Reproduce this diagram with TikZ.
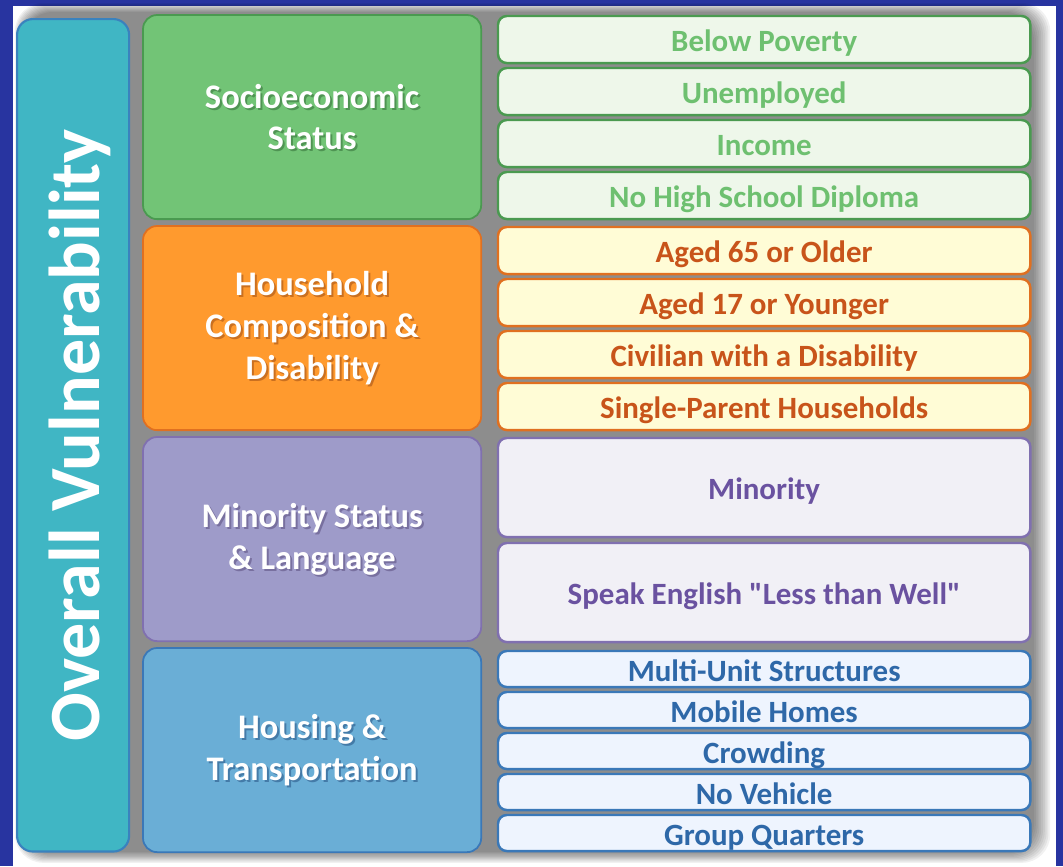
\documentclass[tikz,border=0pt]{standalone}
\usepackage{fontspec}
\setmainfont{Carlito}[Ligatures=TeXOff]
\usetikzlibrary{positioning}

\definecolor{frameblue}{RGB}{40,52,160}
\definecolor{overallteal}{RGB}{64,182,196}
\definecolor{overallline}{RGB}{58,130,190}
\definecolor{sesfill}{RGB}{114,196,118}
\definecolor{sesline}{RGB}{74,154,80}
\definecolor{sesitem}{RGB}{238,247,234}
\definecolor{sestext}{RGB}{110,192,112}
\definecolor{hcdfill}{RGB}{255,154,46}
\definecolor{hcdline}{RGB}{224,112,32}
\definecolor{hcditem}{RGB}{255,252,214}
\definecolor{hcdtext}{RGB}{200,84,26}
\definecolor{mslfill}{RGB}{158,155,201}
\definecolor{mslline}{RGB}{128,112,176}
\definecolor{mslitem}{RGB}{241,240,246}
\definecolor{msltext}{RGB}{106,82,160}
\definecolor{htfill}{RGB}{106,174,214}
\definecolor{htline}{RGB}{58,120,184}
\definecolor{htitem}{RGB}{238,244,254}
\definecolor{httext}{RGB}{46,104,168}

\tikzset{
  catbox/.style={draw=#1line, fill=#1fill, line width=0.5pt, rounded corners=4pt,
    anchor=north west, minimum width=3.38cm, minimum height=2.04cm, inner sep=0pt, outer sep=0pt},
  cattext/.style={text=white, font=\fontsize{9.8}{11.9}\selectfont\bfseries, align=center},
  catshade/.style={text=#1line!75!black, opacity=0.6, font=\fontsize{9.8}{11.9}\selectfont\bfseries, align=center},
  itembox/.style={draw=#1line, fill=#1item, text=#1text, line width=0.7pt, rounded corners=2.5pt,
    anchor=north west, minimum width=5.32cm, inner sep=0pt, outer sep=0pt,
    text height=0.7em, text depth=0pt, font=\fontsize{8.8}{10}\selectfont\bfseries}
}

\begin{document}
\begin{tikzpicture}[x=0.01cm,y=-0.01cm]
\useasboundingbox (0,0) rectangle (1063,866);
\fill[frameblue] (0,0) rectangle (1063,866);
\fill[white] (13,6) rectangle (1056,866);
\foreach \i in {0,...,9}
  \fill[black, opacity=0.055, rounded corners=8pt] (24-\i,12-\i) rectangle (1034+\i*1.8,852+\i*1.2);

\node[draw=overallline, fill=overallteal, line width=0.6pt, rounded corners=4.5pt, anchor=north west,
  minimum width=1.12cm, minimum height=8.32cm, inner sep=0pt] (overall) at (16,18) {};
\node[rotate=90, anchor=base, text=white, font=\fontsize{20.5}{24}\selectfont\bfseries] (overalltxt)
  at ([xshift=0.26cm]overall.center) {Overall Vulnerability};

\foreach \n/\t in {ses/15, hcd/226, msl/437, ht/648}
  \node[catbox=\n] (\n) at (143,\t) {};

\foreach \n/\txt in {ses/{Socioeconomic\\Status}, hcd/{Household\\Composition \&\\Disability},
    msl/{Minority Status\\\& Language}, ht/{Housing \&\\Transportation}} {
  \node[catshade=\n] (\n-shade) at ([shift={(2,2)}]\n.center) {\txt};
  \node[cattext] (\n-label) at (\n.center) {\txt};
}

\foreach \t/\txt [count=\i] in {16/Below Poverty, 68/Unemployed, 120/Income, 172/No High School Diploma}
  \node[itembox=ses, minimum height=0.47cm] (ses-\i) at (498,\t) {\txt};
\foreach \t/\txt [count=\i] in {227/Aged 65 or Older, 279/Aged 17 or Younger,
    331/Civilian with a Disability, 383/Single-Parent Households}
  \node[itembox=hcd, minimum height=0.47cm] (hcd-\i) at (498,\t) {\txt};
\foreach \t/\txt [count=\i] in {438/Minority, 543/Speak English "Less than Well"}
  \node[itembox=msl, minimum height=0.99cm] (msl-\i) at (498,\t) {\txt};
\foreach \t/\txt [count=\i] in {651/Multi-Unit Structures, 692/Mobile Homes, 733/Crowding,
    774/No Vehicle, 815/Group Quarters}
  \node[itembox=ht, minimum height=0.36cm] (ht-\i) at (498,\t) {\txt};
\end{tikzpicture}
\end{document}
